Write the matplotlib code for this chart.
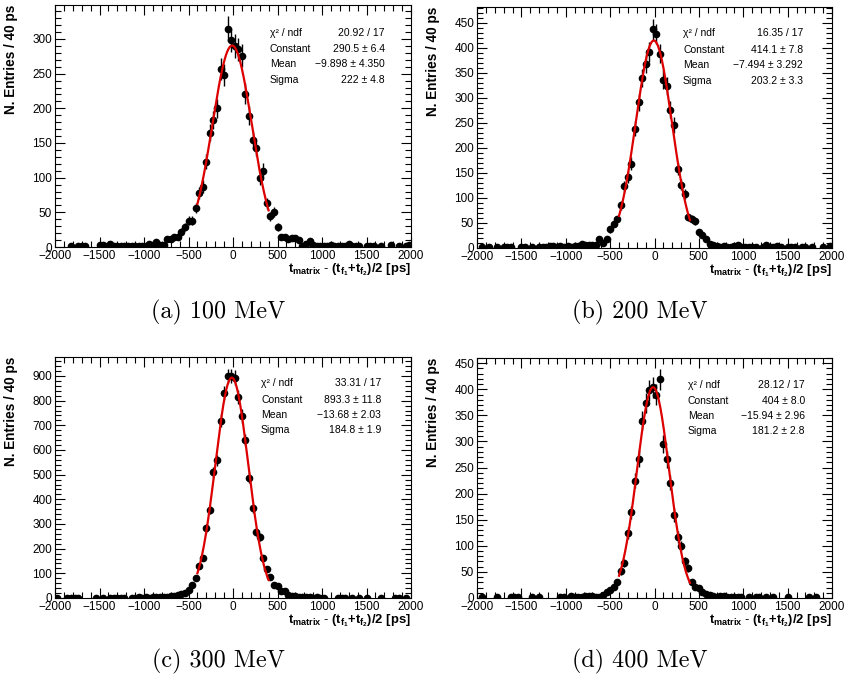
import numpy as np
import matplotlib
matplotlib.use("Agg")
import matplotlib.pyplot as plt
from matplotlib.ticker import MultipleLocator

plt.rcParams['font.family'] = ['Liberation Sans', 'DejaVu Sans']
plt.rcParams['mathtext.fontset'] = 'custom'
plt.rcParams['mathtext.rm'] = 'Liberation Sans'
plt.rcParams['mathtext.bf'] = 'Liberation Sans:bold'
plt.rcParams['mathtext.it'] = 'Liberation Sans:italic'

# ── données : 100 bins de 40 ps entre -2000 et 2000 ─────────────
bin_centers = np.arange(-1980, 2000, 40)

counts_100 = [0, 0, 0, 0, 1, 0, 2, 2, 1, 0,
              0, 0, 3, 3, 2, 4, 1, 1, 1, 1,
              2, 2, 1, 1, 1, 2, 4, 3, 7, 3,
              3, 11, 11, 14, 14, 22, 29, 38, 38, 56,
              78, 87, 123, 165, 183, 200, 257, 248, 315, 298,
              290, 285, 276, 221, 189, 154, 143, 99, 110, 63,
              44, 50, 29, 14, 14, 11, 13, 13, 10, 2,
              5, 8, 3, 2, 1, 2, 1, 3, 1, 2,
              1, 2, 4, 1, 1, 1, 0, 1, 2, 2,
              0, 1, 0, 0, 3, 0, 1, 0, 1, 3]

counts_200 = [0, 2, 0, 2, 0, 1, 0, 1, 2, 1,
              0, 0, 2, 2, 0, 2, 0, 1, 2, 1,
              3, 4, 2, 4, 2, 3, 1, 4, 3, 8,
              5, 5, 5, 6, 18, 10, 18, 37, 48, 57,
              85, 123, 142, 168, 238, 291, 339, 368, 391, 437,
              427, 388, 336, 324, 276, 246, 158, 126, 108, 61,
              58, 53, 32, 25, 17, 8, 5, 3, 2, 3,
              2, 1, 3, 6, 2, 2, 1, 1, 2, 0,
              1, 5, 2, 1, 3, 1, 0, 1, 1, 2,
              0, 1, 1, 0, 1, 0, 0, 1, 0, 3]

counts_300 = [2, 0, 0, 1, 2, 1, 1, 0, 0, 0,
              0, 2, 0, 1, 0, 1, 1, 2, 1, 2,
              0, 1, 2, 3, 2, 3, 1, 5, 3, 3,
              4, 5, 7, 8, 12, 16, 20, 34, 51, 81,
              128, 162, 282, 358, 510, 558, 718, 830, 900, 900,
              893, 816, 738, 641, 488, 364, 266, 247, 162, 117,
              84, 54, 47, 27, 27, 12, 9, 7, 5, 5,
              3, 3, 2, 4, 1, 2, 0, 0, 0, 1,
              1, 1, 0, 1, 0, 1, 0, 1, 0, 0,
              0, 1, 0, 0, 0, 1, 1, 0, 1, 0]

counts_400 = [0, 1, 0, 0, 0, 1, 0, 0, 0, 1,
              1, 2, 0, 0, 0, 1, 0, 1, 0, 0,
              0, 0, 0, 1, 1, 0, 3, 1, 1, 2,
              3, 3, 3, 2, 1, 6, 11, 16, 21, 30,
              51, 67, 125, 164, 225, 267, 340, 374, 398, 404,
              390, 419, 296, 266, 221, 159, 117, 100, 70, 57,
              30, 22, 19, 11, 8, 6, 3, 2, 3, 4,
              2, 1, 1, 2, 1, 0, 1, 0, 1, 1,
              0, 1, 0, 1, 0, 0, 0, 1, 0, 0,
              0, 0, 0, 1, 0, 1, 0, 0, 0, 0]

# paramètres du fit gaussien (affichés dans la boîte de stats)
fit_const = [290.5, 414.1, 893.3, 404.0]
fit_mean = [-9.898, -7.494, -13.68, -15.94]
fit_sigma = [222.0, 203.2, 184.8, 181.2]

stat_values = [["20.92 / 17", "290.5 ± 6.4", "−9.898 ± 4.350", "222 ± 4.8"],
               ["16.35 / 17", "414.1 ± 7.8", "−7.494 ± 3.292", "203.2 ± 3.3"],
               ["33.31 / 17", "893.3 ± 11.8", "−13.68 ± 2.03", "184.8 ± 1.9"],
               ["28.12 / 17", "404 ± 8.0", "−15.94 ± 2.96", "181.2 ± 2.8"]]
stat_labels = ["χ² / ndf", "Constant", "Mean", "Sigma"]

captions = ["(a) 100 MeV", "(b) 200 MeV", "(c) 300 MeV", "(d) 400 MeV"]
y_max = [349, 481, 977, 460]
y_major = [50, 50, 100, 50]

all_counts = [counts_100, counts_200, counts_300, counts_400]

# ── mise en page (pixels de la figure 850x684) ──────────────────
W, H = 850, 684
axes_px = [(55, 5, 411, 247), (477, 7, 832, 248),
           (55, 357, 411, 598), (477, 358, 832, 598)]
stat_px = [(270, 385, [33, 49, 64, 80]),
           (683, 803, [33, 50, 65, 81]),
           (261, 381, [383, 400, 415, 430]),
           (688, 805, [385, 401, 416, 431])]
caption_px = [(218, 312), (640, 312), (218, 661), (640, 661)]

xlabel = r"$\mathbf{t_{matrix}\ \text{-}\ (t_{f_{1}}{+}t_{f_{2}})/2\ [ps]}$"

fig = plt.figure(figsize=(8.5, 6.84), dpi=100)

for k in range(4):
    l, t, r, b = axes_px[k]
    ax = fig.add_axes([l / W, 1 - b / H, (r - l) / W, (b - t) / H])

    y = np.array(all_counts[k], dtype=float)
    keep = y > 0
    ax.errorbar(bin_centers[keep], y[keep], yerr=np.sqrt(y[keep]),
                fmt='o', ms=4.5, color='black', ecolor='black',
                elinewidth=1.0, capsize=0, zorder=3)

    xf = np.linspace(-400, 400, 300)
    yf = fit_const[k] * np.exp(-0.5 * ((xf - fit_mean[k]) / fit_sigma[k]) ** 2)
    ax.plot(xf, yf, color='#dd0000', lw=1.6, zorder=4)

    ax.set_xlim(-2000, 2000)
    ax.set_ylim(0, y_max[k])
    ax.xaxis.set_major_locator(MultipleLocator(500))
    ax.xaxis.set_minor_locator(MultipleLocator(100))
    ax.yaxis.set_major_locator(MultipleLocator(y_major[k]))
    ax.yaxis.set_minor_locator(MultipleLocator(y_major[k] / 5))
    ax.tick_params(which='both', direction='in', top=True, right=True,
                   labelsize=8.5, width=0.8)
    ax.tick_params(which='major', length=7.5)
    ax.tick_params(which='minor', length=4)
    ax.tick_params(axis='x', pad=2)
    ax.tick_params(axis='y', pad=2)
    for sp in ax.spines.values():
        sp.set_linewidth(0.8)

    ax.set_xlabel(xlabel, fontsize=9.4, ha='right', va='baseline')
    ax.xaxis.set_label_coords(1.0, -25 / (b - t))
    ax.set_ylabel("N. Entries / 40 ps", fontsize=9.8, fontweight='bold', loc='top')
    ax.yaxis.set_label_coords(-37 / (r - l), 1.0)

    # boîte de stats
    xl, xr, rows = stat_px[k]
    for lab, val, yy in zip(stat_labels, stat_values[k], rows):
        fig.text(xl / W, 1 - yy / H, lab, fontsize=7.5, ha='left', va='center')
        fig.text(xr / W, 1 - yy / H, val, fontsize=7.5, ha='right', va='center')

    cx, cy = caption_px[k]
    fig.text(cx / W, 1 - cy / H, captions[k], family='cmr10', fontsize=17.4,
             ha='center', va='center')

fig.savefig("out.png", dpi=100)
